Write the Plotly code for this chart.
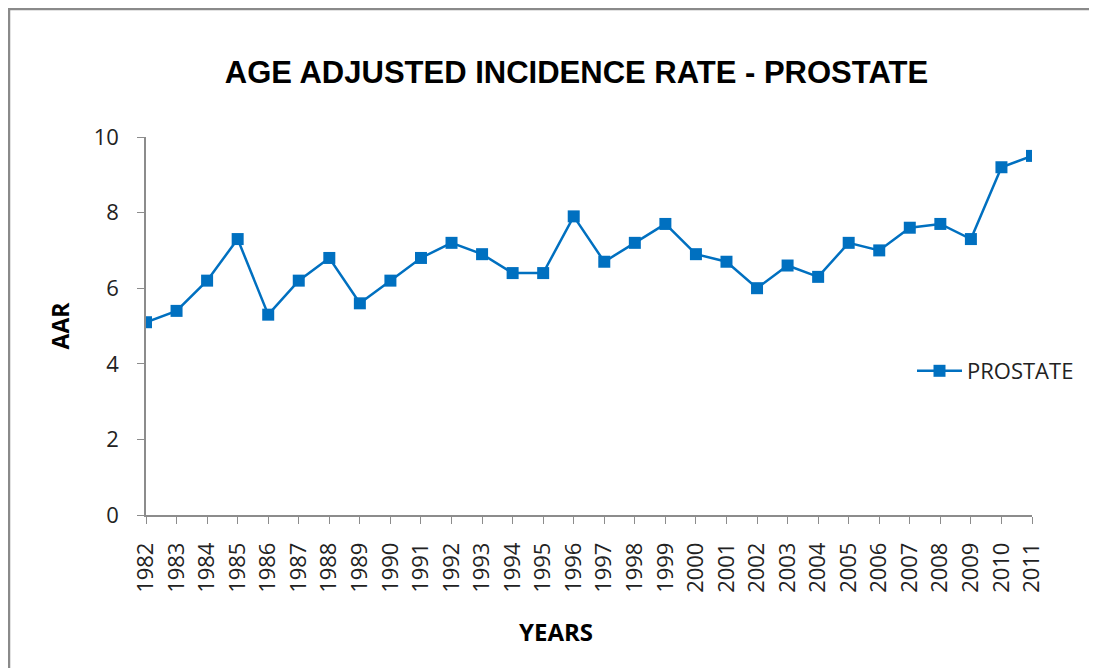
import plotly.graph_objects as go

years = list(range(1982, 2012))
aar = [5.1, 5.4, 6.2, 7.3, 5.3, 6.2, 6.8, 5.6, 6.2, 6.8,
       7.2, 6.9, 6.4, 6.4, 7.9, 6.7, 7.2, 7.7, 6.9, 6.7,
       6.0, 6.6, 6.3, 7.2, 7.0, 7.6, 7.7, 7.3, 9.2, 9.5]
series_name = "PROSTATE"
title_text = "AGE ADJUSTED INCIDENCE RATE - PROSTATE"
x_title = "YEARS"
y_title = "AAR"

OFF = 8  # page offset of the figure (body margin)
W, H = 1097 - OFF, 668 - OFF
# target plot area in page pixels: x 146..1032, y 137..515
L, T = 146 - OFF, 137 - OFF
R = W - (1032 - OFF)
B = H - (515 - OFF)
pw, ph = W - L - R, H - T - B

def px_x(p):  # page px -> paper x
    return (p - OFF - L) / pw

def px_y(p):  # page px -> paper y
    return (H - B - (p - OFF)) / ph

fig = go.Figure()
fig.add_trace(go.Scatter(
    x=years, y=aar, name=series_name, mode="lines+markers",
    line=dict(color="#0070C0", width=2.5),
    marker=dict(symbol="square", size=12, color="#0070C0"),
))

tick_font = "Open Sans, Liberation Sans, sans-serif"

fig.update_layout(
    width=W, height=H,
    margin=dict(l=L, r=R, t=T, b=B),
    paper_bgcolor="white", plot_bgcolor="white",
    font=dict(family=tick_font, color="#222"),
    title=dict(text="<b>" + title_text + "</b>", x=(576.5 - OFF) / W, xanchor="center",
               y=1 - (72 - OFF) / H, yanchor="middle",
               font=dict(size=31, color="black", family="Liberation Sans, Arial, sans-serif")),
    showlegend=True,
    legend=dict(x=px_x(912), y=px_y(371), xanchor="left", yanchor="middle",
                font=dict(size=22, family=tick_font, color="#222"),
                bgcolor="rgba(0,0,0,0)", itemwidth=45),
    xaxis=dict(range=[1982, 2011], tickvals=years, ticktext=[str(y) for y in years],
               tickangle=-90, showgrid=False, zeroline=False,
               showline=True, linecolor="#8c8c8c", linewidth=1.5,
               ticks="outside", ticklen=7, tickcolor="#8c8c8c",
               ticklabelstandoff=10,
               tickfont=dict(size=22, family=tick_font, color="#222")),
    yaxis=dict(range=[0, 10], dtick=2, showgrid=False, zeroline=False,
               showline=True, linecolor="#8c8c8c", linewidth=1.5,
               ticks="outside", ticklen=7, tickcolor="#8c8c8c",
               ticklabelstandoff=14,
               tickfont=dict(size=22, family=tick_font, color="#222"),
               title=dict(text="<b>" + y_title + "</b>", standoff=18,
                          font=dict(size=23, family=tick_font, color="black"))),
    annotations=[dict(text="<b>" + x_title + "</b>", xref="paper", yref="paper",
                      x=px_x(556), y=px_y(631), xanchor="center", yanchor="middle",
                      showarrow=False,
                      font=dict(size=24, family=tick_font, color="black"))],
    shapes=[dict(type="rect", xref="paper", yref="paper",
                 x0=px_x(OFF + 1), x1=px_x(1200), y0=px_y(760), y1=px_y(OFF + 1),
                 line=dict(color="#8a8a8a", width=2.5), fillcolor="rgba(0,0,0,0)", layer="below")],
)

fig.write_html("out.html", config={"displayModeBar": False})
